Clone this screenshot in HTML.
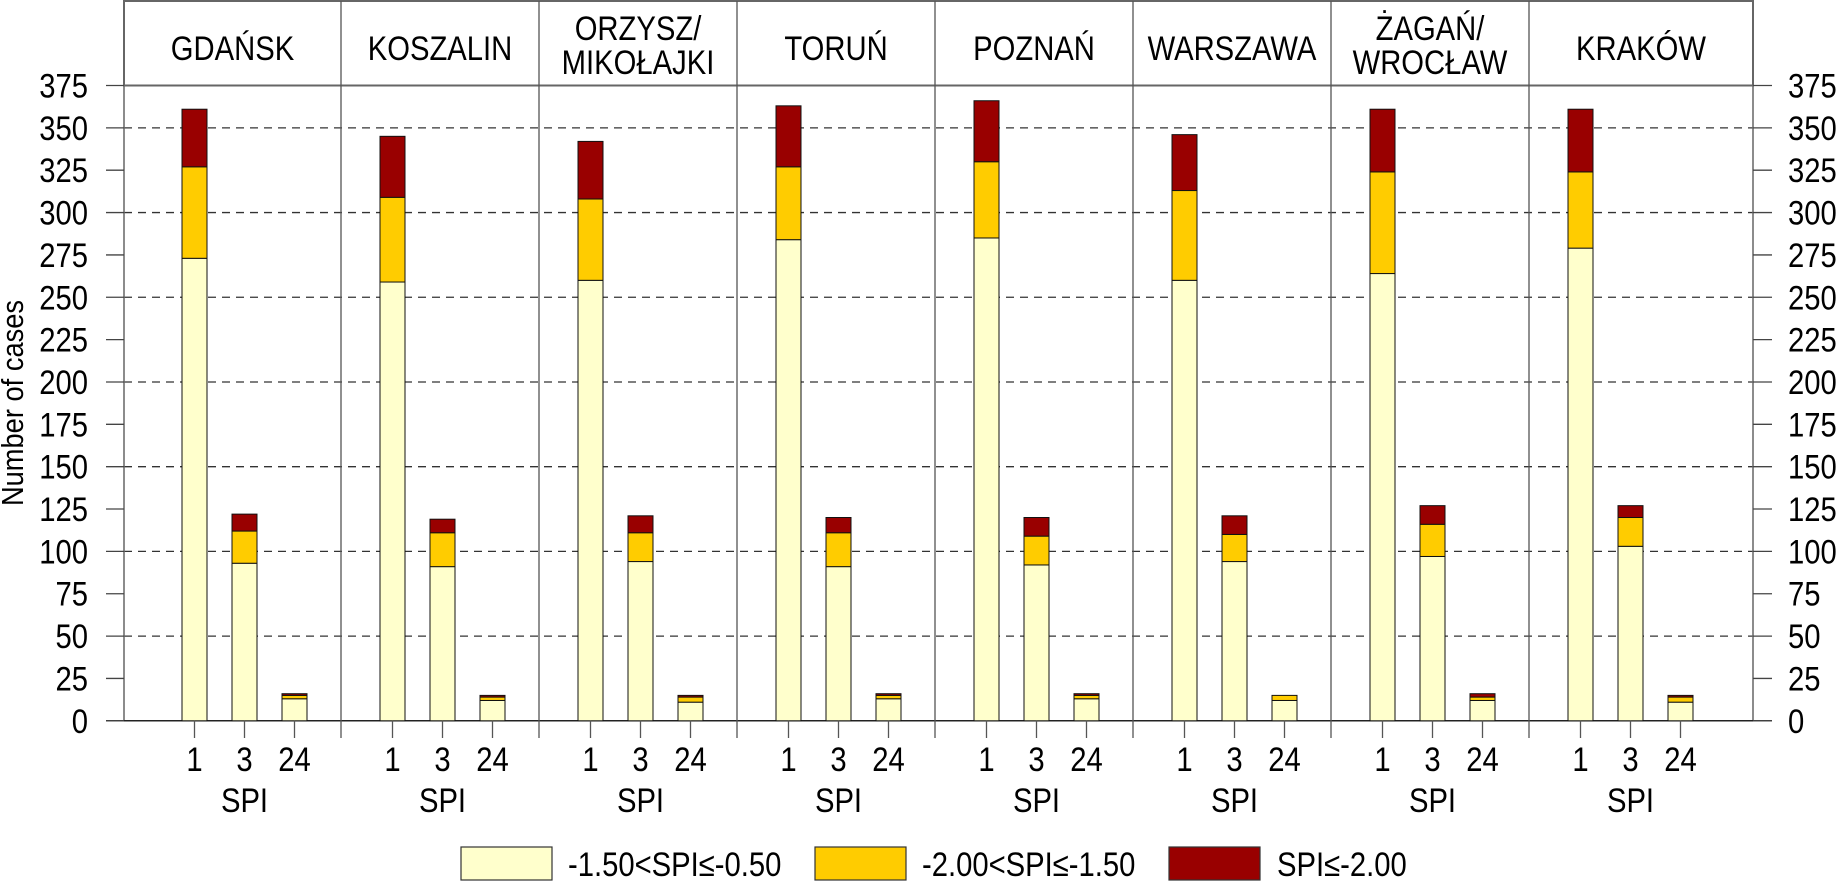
<!DOCTYPE html>
<html><head><meta charset="utf-8"><style>
html,body{margin:0;padding:0;background:#fff;}
svg{display:block;font-family:"Liberation Sans",sans-serif;}
</style></head><body>
<svg id="chart" width="1838" height="881" viewBox="0 0 1838 881" xmlns="http://www.w3.org/2000/svg">
<g id="grid"></g>
<g id="frame"></g>
<g id="bars"></g>
<g id="axes"></g>
<text transform="translate(23,403) rotate(-90) scale(0.88,1)" text-anchor="middle" font-size="31" fill="#000">Number of cases</text>
<g>
<rect x="461" y="847" width="91" height="33" fill="#FFFFCC" stroke="#333" stroke-width="1.2"/>
<text transform="translate(568,876) scale(0.86,1)" font-size="34">-1.50&lt;SPI≤-0.50</text>
<rect x="815" y="847" width="91" height="33" fill="#FFCC00" stroke="#333" stroke-width="1.2"/>
<text transform="translate(922,876) scale(0.86,1)" font-size="34">-2.00&lt;SPI≤-1.50</text>
<rect x="1169" y="847" width="91" height="33" fill="#990000" stroke="#333" stroke-width="1.2"/>
<text transform="translate(1277,876) scale(0.86,1)" font-size="34">SPI≤-2.00</text>
</g>
</svg>
<script>
const stations = ["GDAŃSK","KOSZALIN","ORZYSZ/|MIKOŁAJKI","TORUŃ","POZNAŃ","WARSZAWA","ŻAGAŃ/|WROCŁAW","KRAKÓW"];
const scales = ["1","3","24"];
// segment counts per station, per scale [SPI1, SPI3, SPI24]
const mild = [[273,93,13],[259,91,12],[260,94,11],[284,91,13],[285,92,13],[260,94,12],[264,97,12],[279,103,11]];
const severe = [[54,19,2],[50,20,2],[48,17,3],[43,20,2],[45,17,2],[53,16,3],[60,19,2],[45,17,3]];
const extreme = [[34,10,1],[36,8,1],[34,10,1],[36,9,1],[36,11,1],[33,11,0],[37,11,2],[37,7,1]];
const yTicks = [0,25,50,75,100,125,150,175,200,225,250,275,300,325,350,375];
const gridVals = [50,100,150,200,250,300,350];

const NS="http://www.w3.org/2000/svg";
const X0=124, X1=1753, Y0=720.8, YT=85.5, PW=198, PBASE=145, SX=0.86, FS=34;
function y(v){return Y0-(Y0-YT)*v/375;}
function panelX(i){return PBASE+PW*i;}
function barX(i,j){return panelX(i)+37+50*j;}
function mk(tag,attrs,parent){const e=document.createElementNS(NS,tag);for(const k in attrs)e.setAttribute(k,attrs[k]);parent.appendChild(e);return e;}
function txt(x,yy,anchor,parent){return mk('text',{transform:'translate('+x+','+yy+') scale('+SX+',1)','text-anchor':anchor,'font-size':FS,fill:'#000'},parent);}

const grid=document.getElementById('grid'),frame=document.getElementById('frame'),bars=document.getElementById('bars'),axes=document.getElementById('axes');
gridVals.forEach(v=>{
  const l=mk('line',{x1:X0,x2:X1,y1:y(v),y2:y(v),stroke:'#333','stroke-width':1.3,'stroke-dasharray':'8,6'},grid);
  
  
});
const hb=mk('rect',{x:X0,y:1,width:X1-X0,height:YT-1,fill:'none',stroke:'#666','stroke-width':2},frame);


const pl=mk('line',{x1:X0,x2:X0,y1:YT,y2:Y0,stroke:'#666','stroke-width':1.5},frame);


const pr=mk('line',{x1:X1,x2:X1,y1:YT,y2:Y0,stroke:'#666','stroke-width':1.5},frame);


const zl=mk('line',{x1:106,x2:1772,y1:Y0,y2:Y0,stroke:'#222','stroke-width':1.5},frame);


for(let i=1;i<stations.length;i++){
  const d=mk('line',{x1:panelX(i)-2,x2:panelX(i)-2,y1:1,y2:738,stroke:'#555','stroke-width':1.3},frame);
  
  
}
stations.forEach((s,i)=>{
  const left=i===0?X0:panelX(i)-2, right=i===stations.length-1?X1:panelX(i+1)-2;
  const cx=(left+right)/2, parts=s.split('|');
  if(parts.length===1){
    const t=txt(cx,60,'middle',frame);
    
    
    t.textContent=parts[0];
  } else {
    const t1=txt(cx,40,'middle',frame);
    
    
    t1.textContent=parts[0];
    const t2=txt(cx,74,'middle',frame);
    
    
    t2.textContent=parts[1];
  }
});
const cols=['#FFFFCC','#FFCC00','#990000'];
stations.forEach((s,i)=>{
  scales.forEach((sc,j)=>{
    const segs=[mild[i][j],severe[i][j],extreme[i][j]];
    let base=0;
    segs.forEach((v,k)=>{
      if(v<=0)return;
      const r=mk('rect',{x:barX(i,j),y:y(base+v),width:25,height:y(base)-y(base+v),fill:cols[k],stroke:'#111','stroke-width':1},bars);
      
      
      base+=v;
    });
    const tk=mk('line',{x1:barX(i,j)+12.5,x2:barX(i,j)+12.5,y1:Y0,y2:738,stroke:'#555','stroke-width':1.3},axes);
    
    
    const tl=txt(barX(i,j)+12.5,771,'middle',axes);
    
    
    tl.textContent=sc;
  });
  const sp=txt(barX(i,1)+12.5,812,'middle',axes);
  
  
  sp.textContent='SPI';
});
yTicks.forEach(v=>{
  const a=mk('line',{x1:106,x2:X0,y1:y(v),y2:y(v),stroke:'#444','stroke-width':1.3},axes);
  
  
  const b=mk('line',{x1:X1,x2:1772,y1:y(v),y2:y(v),stroke:'#444','stroke-width':1.3},axes);
  
  
  const t1=txt(88,y(v)+12,'end',axes);
  
  
  t1.textContent=v;
  const t2=txt(1788,y(v)+12,'start',axes);
  
  
  t2.textContent=v;
});
</script>
</body></html>
